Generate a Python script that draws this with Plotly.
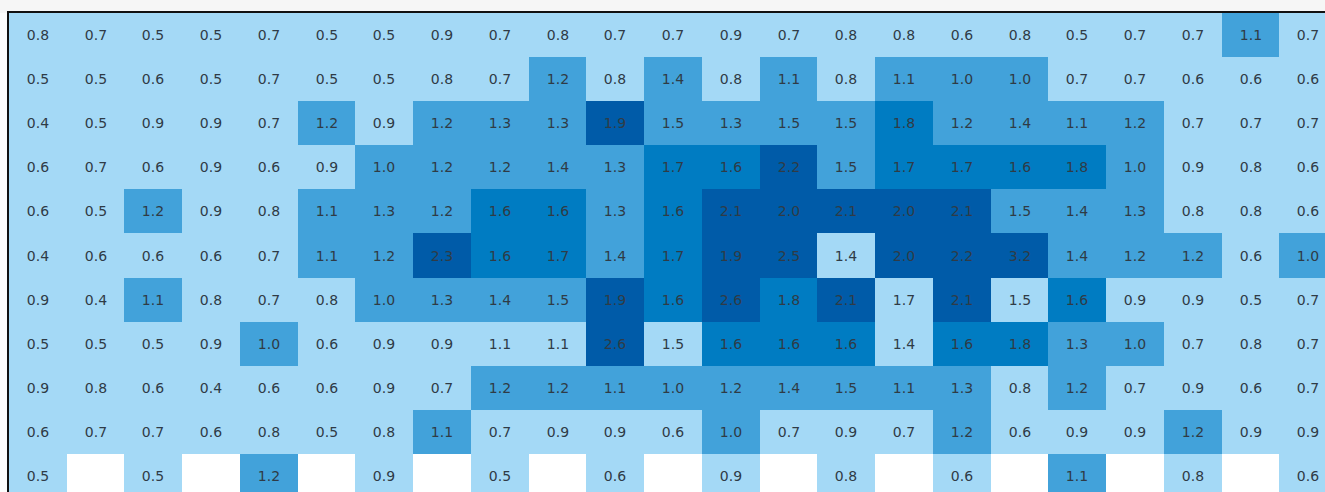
import plotly.graph_objects as go

columns = [f"C{i}" for i in range(1, 24)]
rows = [f"R{i}" for i in range(1, 12)]

N = None
values = [
    [0.8, 0.7, 0.5, 0.5, 0.7, 0.5, 0.5, 0.9, 0.7, 0.8, 0.7, 0.7, 0.9, 0.7, 0.8, 0.8, 0.6, 0.8, 0.5, 0.7, 0.7, 1.1, 0.7],
    [0.5, 0.5, 0.6, 0.5, 0.7, 0.5, 0.5, 0.8, 0.7, 1.2, 0.8, 1.4, 0.8, 1.1, 0.8, 1.1, 1.0, 1.0, 0.7, 0.7, 0.6, 0.6, 0.6],
    [0.4, 0.5, 0.9, 0.9, 0.7, 1.2, 0.9, 1.2, 1.3, 1.3, 1.9, 1.5, 1.3, 1.5, 1.5, 1.8, 1.2, 1.4, 1.1, 1.2, 0.7, 0.7, 0.7],
    [0.6, 0.7, 0.6, 0.9, 0.6, 0.9, 1.0, 1.2, 1.2, 1.4, 1.3, 1.7, 1.6, 2.2, 1.5, 1.7, 1.7, 1.6, 1.8, 1.0, 0.9, 0.8, 0.6],
    [0.6, 0.5, 1.2, 0.9, 0.8, 1.1, 1.3, 1.2, 1.6, 1.6, 1.3, 1.6, 2.1, 2.0, 2.1, 2.0, 2.1, 1.5, 1.4, 1.3, 0.8, 0.8, 0.6],
    [0.4, 0.6, 0.6, 0.6, 0.7, 1.1, 1.2, 2.3, 1.6, 1.7, 1.4, 1.7, 1.9, 2.5, 1.4, 2.0, 2.2, 3.2, 1.4, 1.2, 1.2, 0.6, 1.0],
    [0.9, 0.4, 1.1, 0.8, 0.7, 0.8, 1.0, 1.3, 1.4, 1.5, 1.9, 1.6, 2.6, 1.8, 2.1, 1.7, 2.1, 1.5, 1.6, 0.9, 0.9, 0.5, 0.7],
    [0.5, 0.5, 0.5, 0.9, 1.0, 0.6, 0.9, 0.9, 1.1, 1.1, 2.6, 1.5, 1.6, 1.6, 1.6, 1.4, 1.6, 1.8, 1.3, 1.0, 0.7, 0.8, 0.7],
    [0.9, 0.8, 0.6, 0.4, 0.6, 0.6, 0.9, 0.7, 1.2, 1.2, 1.1, 1.0, 1.2, 1.4, 1.5, 1.1, 1.3, 0.8, 1.2, 0.7, 0.9, 0.6, 0.7],
    [0.6, 0.7, 0.7, 0.6, 0.8, 0.5, 0.8, 1.1, 0.7, 0.9, 0.9, 0.6, 1.0, 0.7, 0.9, 0.7, 1.2, 0.6, 0.9, 0.9, 1.2, 0.9, 0.9],
    [0.5, N, 0.5, N, 1.2, N, 0.9, N, 0.5, N, 0.6, N, 0.9, N, 0.8, N, 0.6, N, 1.1, N, 0.8, N, 0.6],
]

# colour class of each cell: 0 light, 1 medium, 2 dark, 3 darkest
levels = [
    [0, 0, 0, 0, 0, 0, 0, 0, 0, 0, 0, 0, 0, 0, 0, 0, 0, 0, 0, 0, 0, 1, 0],
    [0, 0, 0, 0, 0, 0, 0, 0, 0, 1, 0, 1, 0, 1, 0, 1, 1, 1, 0, 0, 0, 0, 0],
    [0, 0, 0, 0, 0, 1, 0, 1, 1, 1, 3, 1, 1, 1, 1, 2, 1, 1, 1, 1, 0, 0, 0],
    [0, 0, 0, 0, 0, 0, 1, 1, 1, 1, 1, 2, 2, 3, 1, 2, 2, 2, 2, 1, 0, 0, 0],
    [0, 0, 1, 0, 0, 1, 1, 1, 2, 2, 1, 2, 3, 3, 3, 3, 3, 1, 1, 1, 0, 0, 0],
    [0, 0, 0, 0, 0, 1, 1, 3, 2, 2, 1, 2, 3, 3, 0, 3, 3, 3, 1, 1, 1, 0, 1],
    [0, 0, 1, 0, 0, 0, 1, 1, 1, 1, 3, 2, 3, 2, 3, 0, 3, 0, 2, 0, 0, 0, 0],
    [0, 0, 0, 0, 1, 0, 0, 0, 0, 0, 3, 0, 2, 2, 2, 0, 2, 2, 1, 1, 0, 0, 0],
    [0, 0, 0, 0, 0, 0, 0, 0, 1, 1, 1, 1, 1, 1, 1, 1, 1, 0, 1, 0, 0, 0, 0],
    [0, 0, 0, 0, 0, 0, 0, 1, 0, 0, 0, 0, 1, 0, 0, 0, 1, 0, 0, 0, 1, 0, 0],
    [0, N, 0, N, 1, N, 0, N, 0, N, 0, N, 0, N, 0, N, 0, N, 1, N, 0, N, 0],
]

palette = ["#A4D9F6", "#42A2DA", "#007CC2", "#005BA8"]

text = [["" if v is None else f"{v:.1f}" for v in r] for r in values]

colorscale = []
n = len(palette)
for i, c in enumerate(palette):
    colorscale.append([i / n, c])
    colorscale.append([(i + 1) / n, c])

W, H = 1325, 492
ML, MT = 9, 13
CELL_W, CELL_H = 57.75, 44.1

fig = go.Figure(
    go.Heatmap(
        z=levels,
        x=columns,
        y=rows,
        text=text,
        texttemplate="%{text}",
        textfont=dict(family="DejaVu Sans", size=14, color="#2F3B46"),
        colorscale=colorscale,
        zmin=-0.5,
        zmax=3.5,
        showscale=False,
        hoverongaps=False,
        xgap=0,
        ygap=0,
    )
)

fig.update_layout(
    width=W,
    height=H,
    margin=dict(l=ML, r=0, t=MT, b=0, pad=0),
    paper_bgcolor="#F6F6F6",
    plot_bgcolor="#FFFFFF",
    showlegend=False,
    shapes=[
        dict(type="rect", xref="paper", yref="paper", x0=-ML / (W - ML), x1=0, y0=0, y1=1,
             fillcolor="#FDFDFD", line=dict(width=0), layer="below"),
    ],
)
fig.update_xaxes(
    side="top",
    range=[-0.5, -0.5 + (W - ML) / CELL_W],
    showticklabels=False,
    showgrid=False,
    zeroline=False,
    showline=True,
    linecolor="#111111",
    linewidth=1.5,
    ticks="",
)
fig.update_yaxes(
    range=[-0.5 + (H - MT) / CELL_H, -0.5],
    showticklabels=False,
    showgrid=False,
    zeroline=False,
    showline=True,
    linecolor="#111111",
    linewidth=1.5,
    ticks="",
)

fig.write_html(
    "out.html",
    config={"displayModeBar": False},
    post_script="document.body.style.margin='0';document.documentElement.style.overflow='hidden';document.body.style.overflow='hidden';",
)
